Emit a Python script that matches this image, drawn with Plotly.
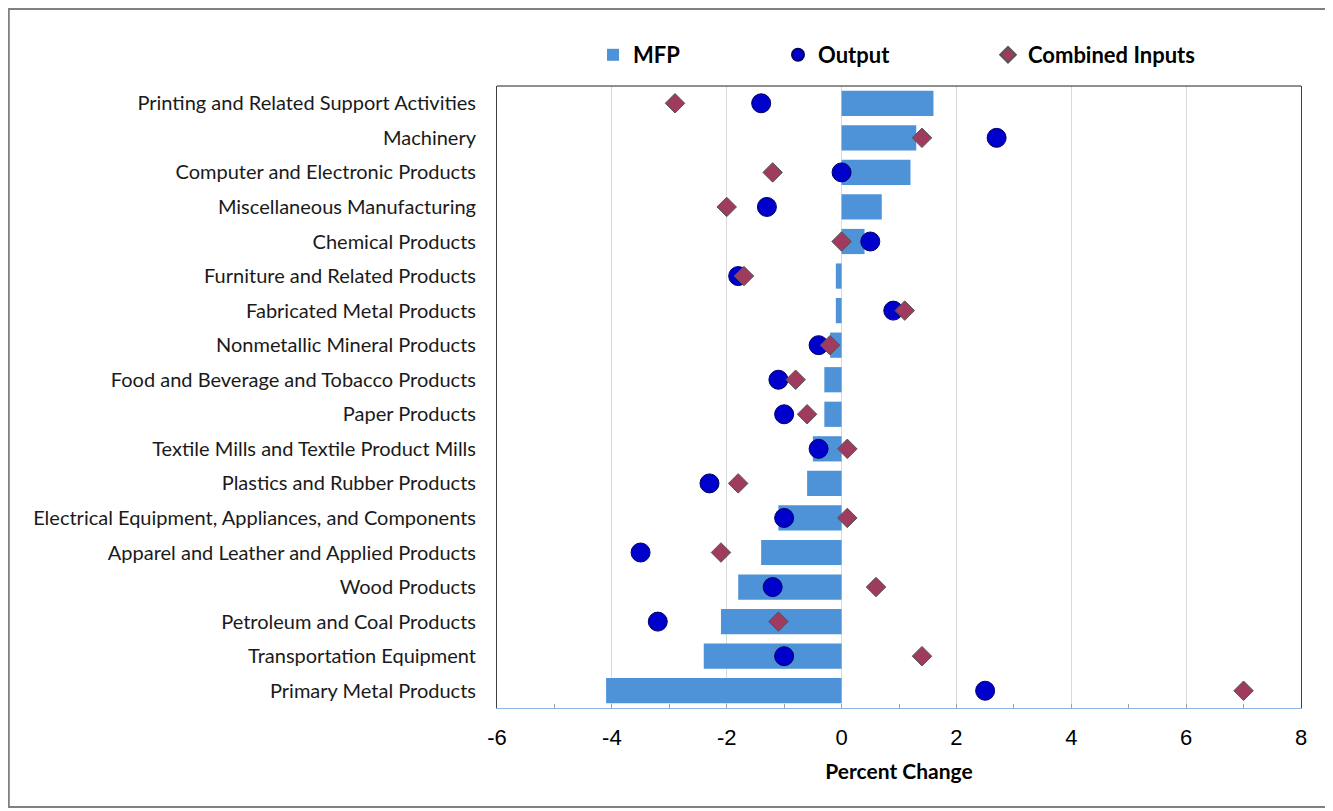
import plotly.graph_objects as go

industries = [
    "Printing and Related Support Activities",
    "Machinery",
    "Computer and Electronic Products",
    "Miscellaneous Manufacturing",
    "Chemical Products",
    "Furniture and Related Products",
    "Fabricated Metal Products",
    "Nonmetallic Mineral Products",
    "Food and Beverage and Tobacco Products",
    "Paper Products",
    "Textile Mills and Textile Product Mills",
    "Plastics and Rubber Products",
    "Electrical Equipment, Appliances, and Components",
    "Apparel and Leather and Applied Products",
    "Wood Products",
    "Petroleum and Coal Products",
    "Transportation Equipment",
    "Primary Metal Products",
]
mfp = [1.6, 1.3, 1.2, 0.7, 0.4, -0.1, -0.1, -0.2, -0.3, -0.3, -0.5, -0.6,
       -1.1, -1.4, -1.8, -2.1, -2.4, -4.1]
output = [-1.4, 2.7, 0.0, -1.3, 0.5, -1.8, 0.9, -0.4, -1.1, -1.0, -0.4, -2.3,
          -1.0, -3.5, -1.2, -3.2, -1.0, 2.5]
combined_inputs = [-2.9, 1.4, -1.2, -2.0, 0.0, -1.7, 1.1, -0.2, -0.8, -0.6, 0.1, -1.8,
                   0.1, -2.1, 0.6, -1.1, 1.4, 7.0]
x_ticks = [-6, -4, -2, 0, 2, 4, 6, 8]

# page body has an 8px margin; figure sized so plot lands at the reference positions
OFF = 8
W, H = 1333 - OFF, 811 - OFF
L, T = 497 - OFF, 86 - OFF
R = W - (1301 - OFF)
B = H - (708 - OFF)
pw, ph = W - L - R, H - T - B

fig = go.Figure()
fig.add_trace(go.Bar(
    y=industries, x=mfp, orientation="h", name="MFP", width=0.73,
    marker=dict(color="#4E93D8", line=dict(width=0)), legend="legend",
))
fig.add_trace(go.Scatter(
    y=industries, x=output, mode="markers", name="Output",
    marker=dict(symbol="circle", size=19, color="#0000CC",
                line=dict(color="#000066", width=1)), legend="legend2",
))
fig.add_trace(go.Scatter(
    y=industries, x=combined_inputs, mode="markers", name="Combined Inputs",
    marker=dict(symbol="diamond", size=15, color="#9E3B5E",
                line=dict(color="#555555", width=1)), legend="legend3",
))

legend_font = dict(family="Lato, Open Sans, sans-serif", size=22, color="#000000", weight="bold")
common_leg = dict(orientation="h", yanchor="middle", y=1 + (86 - 55) / ph,
                  xanchor="left", font=legend_font, bgcolor="rgba(0,0,0,0)",
                  itemsizing="constant")


def lx(screen_x):
    return (screen_x - 497) / pw


fig.update_layout(
    width=W, height=H,
    margin=dict(l=L, r=R, t=T, b=B),
    paper_bgcolor="white", plot_bgcolor="white",
    showlegend=True,
    legend=dict(x=lx(593), **common_leg),
    legend2=dict(x=lx(778), **common_leg),
    legend3=dict(x=lx(988), **common_leg),
    xaxis=dict(
        range=[-6, 8], tickvals=x_ticks, ticktext=[str(v) for v in x_ticks],
        showgrid=True, gridcolor="#D9D9D9", gridwidth=1, zeroline=False,
        showline=True, linecolor="#8DB4E2", linewidth=1,
        ticks="inside", ticklen=4, tickcolor="#A0A0A0",
        minor=dict(dtick=1, ticks="inside", ticklen=4, tickcolor="#A0A0A0", showgrid=False),
        tickfont=dict(family="Arial, Liberation Sans, sans-serif", size=22, color="#000000"),
        ticklabelstandoff=10,
        title=dict(text="Percent Change", standoff=14,
                   font=dict(family="Lato, Open Sans, sans-serif", size=21, color="#000000", weight="bold")),
        fixedrange=True,
    ),
    yaxis=dict(
        categoryorder="array", categoryarray=industries,
        range=[len(industries) - 0.5, -0.5], autorange=False,
        showgrid=False, zeroline=False,
        showline=True, linecolor="#404040", linewidth=1, mirror=True,
        ticks="", ticklabelstandoff=16,
        tickfont=dict(family="Lato, Open Sans, sans-serif", size=20, color="#1a1a1a"),
        fixedrange=True,
    ),
    shapes=[
        dict(type="line", xref="paper", yref="paper", x0=0, x1=1, y0=1, y1=1,
             line=dict(color="#202020", width=1)),
        dict(type="rect", xref="paper", yref="paper",
             x0=-L / pw + 0.001, x1=(1329 - 497) / pw,
             y0=-(807 - 708) / ph, y1=1 + (T - 1) / ph,
             line=dict(color="#808080", width=2), layer="below"),
    ],
)

fig.write_html("out.html")
